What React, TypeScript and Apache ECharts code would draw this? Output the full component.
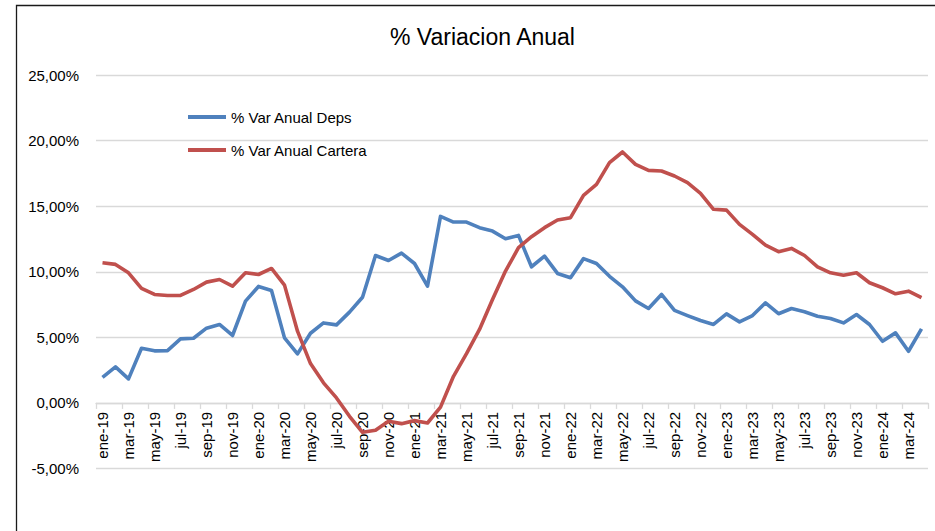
import React, { useEffect, useRef } from "react";
import * as echarts from "echarts";

const categories = [
  "ene-19","feb-19","mar-19","abr-19","may-19","jun-19","jul-19","ago-19","sep-19","oct-19","nov-19","dic-19",
  "ene-20","feb-20","mar-20","abr-20","may-20","jun-20","jul-20","ago-20","sep-20","oct-20","nov-20","dic-20",
  "ene-21","feb-21","mar-21","abr-21","may-21","jun-21","jul-21","ago-21","sep-21","oct-21","nov-21","dic-21",
  "ene-22","feb-22","mar-22","abr-22","may-22","jun-22","jul-22","ago-22","sep-22","oct-22","nov-22","dic-22",
  "ene-23","feb-23","mar-23","abr-23","may-23","jun-23","jul-23","ago-23","sep-23","oct-23","nov-23","dic-23",
  "ene-24","feb-24","mar-24","abr-24",
];

const deps = [
  1.95, 2.75, 1.83, 4.17, 3.97, 3.99, 4.88, 4.93, 5.70, 5.98,
  5.14, 7.76, 8.88, 8.57, 4.96, 3.74, 5.31, 6.10, 5.95, 6.92,
  8.06, 11.24, 10.86, 11.42, 10.63, 8.90, 14.22, 13.79, 13.79, 13.36,
  13.10, 12.52, 12.77, 10.38, 11.19, 9.87, 9.54, 11.00, 10.63, 9.65,
  8.85, 7.78, 7.20, 8.27, 7.05, 6.66, 6.28, 5.98, 6.79, 6.18,
  6.66, 7.63, 6.80, 7.20, 6.95, 6.61, 6.44, 6.10, 6.74, 5.98,
  4.70, 5.34, 3.94, 5.65,
];

const cartera = [
  10.69, 10.56, 9.92, 8.73, 8.27, 8.19, 8.19, 8.65, 9.21, 9.41,
  8.90, 9.92, 9.79, 10.25, 8.98, 5.47, 3.00, 1.53, 0.38, -1.02,
  -2.24, -2.09, -1.40, -1.58, -1.35, -1.53, -0.32, 2.03, 3.76, 5.60,
  7.89, 10.05, 11.83, 12.67, 13.36, 13.94, 14.12, 15.82, 16.66, 18.32,
  19.13, 18.19, 17.73, 17.68, 17.30, 16.79, 15.98, 14.76, 14.70, 13.61,
  12.85, 12.03, 11.53, 11.78, 11.24, 10.38, 9.92, 9.74, 9.92, 9.16,
  8.78, 8.32, 8.52, 8.02,
];

const seriesNames = ["% Var Anual Deps", "% Var Anual Cartera"];
const titleText = "% Variacion Anual";

const FONT = "'Liberation Sans', Arial, sans-serif";

const Y_MIN = -5;
const Y_MAX = 25;
const GRID_TOP = 75;
const GRID_BOTTOM = 62.5;
const CHART_H = 531;

export default function App() {
  const ref = useRef<HTMLDivElement>(null);
  useEffect(() => {
    if (!ref.current) return;
    const chart = echarts.init(ref.current, null, { renderer: "svg" });
    const gridH = CHART_H - GRID_TOP - GRID_BOTTOM;
    // shift the category axis from the bottom of the grid up to the 0 line
    const zeroShift = (gridH * (0 - Y_MIN)) / (Y_MAX - Y_MIN);
    chart.setOption({
      animation: false,
      backgroundColor: "#ffffff",
      textStyle: { fontFamily: FONT },
      graphic: [
        {
          type: "rect",
          shape: { x: 16.5, y: 5.5, width: 1200, height: 1200 },
          style: { fill: "none", stroke: "#1a1a1a", lineWidth: 1.3 },
          silent: true,
        },
        {
          type: "text",
          x: 482.5,
          y: 37,
          style: {
            text: titleText,
            font: `23px ${FONT}`,
            fill: "#000000",
            align: "center",
            verticalAlign: "middle",
          },
        },
      ],
      legend: {
        orient: "vertical",
        left: 188,
        top: 108,
        padding: 0,
        icon: "rect",
        itemWidth: 38,
        itemHeight: 4,
        itemGap: 15,
        textStyle: { fontSize: 15, color: "#000000", lineHeight: 18, fontFamily: FONT },
        data: seriesNames,
      },
      grid: { left: 96, right: 7, top: GRID_TOP, bottom: GRID_BOTTOM, containLabel: false },
      xAxis: {
        type: "category",
        data: categories,
        boundaryGap: true,
        offset: -zeroShift,
        axisLine: { onZero: false, lineStyle: { color: "#d9d9d9", width: 1.3 } },
        axisTick: { show: true, interval: 1, length: 6, lineStyle: { color: "#d9d9d9", width: 1.3 } },
        axisLabel: {
          interval: 1,
          rotate: 90,
          margin: 9,
          fontSize: 15,
          color: "#000000",
          fontFamily: FONT,
        },
        splitLine: { show: false },
      },
      yAxis: {
        type: "value",
        min: Y_MIN,
        max: Y_MAX,
        interval: 5,
        axisLine: { show: false },
        axisTick: { show: false },
        axisLabel: {
          margin: 17,
          fontSize: 15,
          color: "#000000",
          fontFamily: FONT,
          formatter: (v: number) => v.toFixed(2).replace(".", ",") + "%",
        },
        splitLine: { lineStyle: { color: "#d9d9d9", width: 1.3 } },
      },
      series: [
        {
          name: seriesNames[0],
          type: "line",
          data: deps,
          symbol: "none",
          showSymbol: false,
          lineStyle: { color: "#4F81BD", width: 3.6, join: "round" },
          itemStyle: { color: "#4F81BD" },
          z: 2,
        },
        {
          name: seriesNames[1],
          type: "line",
          data: cartera,
          symbol: "none",
          showSymbol: false,
          lineStyle: { color: "#C0504D", width: 3.6, join: "round" },
          itemStyle: { color: "#C0504D" },
          z: 3,
        },
      ],
    });
    return () => chart.dispose();
  }, []);
  return (
    <div
      ref={ref}
      style={{ position: "fixed", left: 0, top: 0, width: 935, height: 531, background: "#fff" }}
    />
  );
}
